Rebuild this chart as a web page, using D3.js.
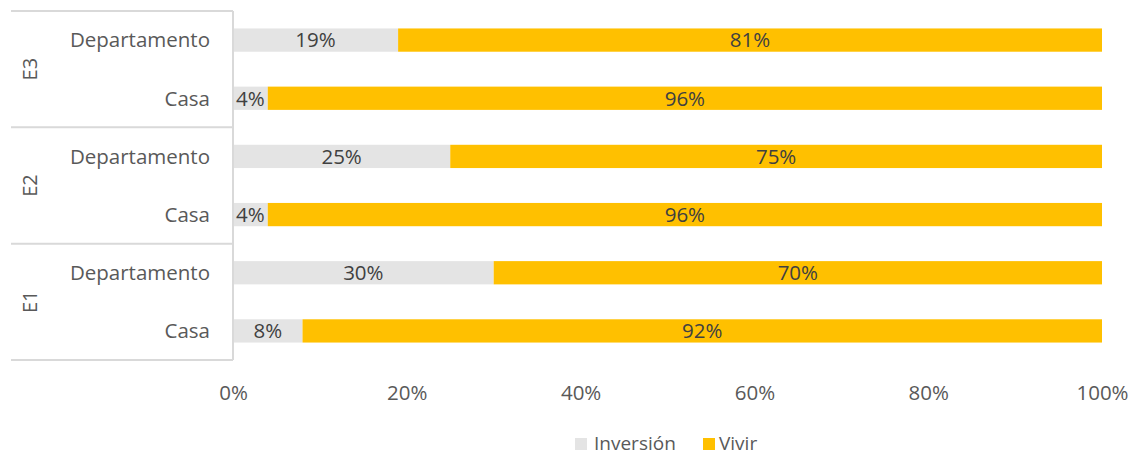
<!DOCTYPE html>
<html>
<head>
<meta charset="utf-8">
<script src="https://cdn.jsdelivr.net/npm/d3@7"></script>
<style>
  html, body { margin: 0; padding: 0; background: #fff; }
  svg { display: block; font-family: "Open Sans", "Noto Sans", sans-serif; }
</style>
</head>
<body>
<svg id="chart" width="1132" height="455"></svg>
<script>
// Groups (top to bottom) and the housing types inside each group
const groups = ["E3", "E2", "E1"];
const types = ["Departamento", "Casa"];
// Share of each purpose, in group order, Departamento then Casa
const inversion = [19, 4, 25, 4, 30, 8];
const vivir = [81, 96, 75, 96, 70, 92];
const seriesNames = ["Inversión", "Vivir"];
const ticks = [0, 20, 40, 60, 80, 100];

const colors = { "Inversión": "#e4e4e4", "Vivir": "#ffc000" };
const textColor = "#595959";
const lineColor = "#d9d9d9";

const rows = [];
groups.forEach((g, gi) => types.forEach((t, ti) => {
  const i = gi * types.length + ti;
  rows.push({ key: g + "|" + t, group: g, type: t, "Inversión": inversion[i], "Vivir": vivir[i] });
}));

const svg = d3.select("#chart");
const plotLeft = 233, plotRight = 1102, plotTop = 11, plotBottom = 360;

const x = d3.scaleLinear().domain([0, 100]).range([plotLeft, plotRight]);
const y = d3.scaleBand().domain(rows.map(d => d.key)).range([plotTop, plotBottom]).paddingInner(0.6).paddingOuter(0.3);

const stack = d3.stack().keys(seriesNames)(rows);

// Stacked bars
const layers = svg.append("g").selectAll("g").data(stack).join("g")
  .attr("fill", d => colors[d.key]);
layers.selectAll("rect").data(d => d.map(v => ({ v, key: d.key }))).join("rect")
  .attr("x", d => x(d.v[0]))
  .attr("y", d => y(d.v.data.key))
  .attr("width", d => x(d.v[1]) - x(d.v[0]))
  .attr("height", y.bandwidth());

// Value labels centred in each segment
layers.selectAll("text").data(d => d.map(v => ({ v, key: d.key }))).join("text")
  .attr("x", d => (x(d.v[0]) + x(d.v[1])) / 2)
  .attr("y", d => y(d.v.data.key) + y.bandwidth() / 2)
  .attr("dy", "0.36em")
  .attr("text-anchor", "middle")
  .attr("fill", "#404040")
  .attr("font-size", 20.5)
  .text(d => (d.v[1] - d.v[0]) + "%");

// Vertical category axis line
svg.append("line")
  .attr("x1", plotLeft).attr("x2", plotLeft)
  .attr("y1", plotTop).attr("y2", plotBottom)
  .attr("stroke", lineColor).attr("stroke-width", 2);

// Group separators
const step = (plotBottom - plotTop) / groups.length;
d3.range(groups.length + 1).forEach(i => {
  svg.append("line")
    .attr("x1", 11).attr("x2", plotLeft)
    .attr("y1", plotTop + i * step).attr("y2", plotTop + i * step)
    .attr("stroke", lineColor).attr("stroke-width", 2);
});

// Inner category labels
svg.append("g").selectAll("text").data(rows).join("text")
  .attr("x", 210)
  .attr("y", d => y(d.key) + y.bandwidth() / 2)
  .attr("dy", "0.36em")
  .attr("text-anchor", "end")
  .attr("fill", textColor)
  .attr("font-size", 20.5)
  .text(d => d.type);

// Outer group labels, rotated
svg.append("g").selectAll("text").data(groups).join("text")
  .attr("transform", (d, i) => `translate(30,${plotTop + (i + 0.5) * step}) rotate(-90)`)
  .attr("dy", "0.36em")
  .attr("text-anchor", "middle")
  .attr("fill", textColor)
  .attr("font-size", 20)
  .text(d => d);

// Percentage axis
const xAxis = svg.append("g")
  .attr("transform", `translate(0,${plotBottom})`)
  .call(d3.axisBottom(x).tickValues(ticks).tickFormat(d => d + "%").tickSize(0).tickPadding(25));
xAxis.select(".domain").remove();
xAxis.selectAll("text")
  .attr("fill", textColor)
  .attr("font-size", 20.5)
  .attr("font-family", '"Open Sans", "Noto Sans", sans-serif');

// Legend
const legendItems = [
  { name: "Inversión", sx: 575, tx: 594 },
  { name: "Vivir", sx: 703, tx: 719 }
];
const legend = svg.append("g").selectAll("g").data(legendItems).join("g");
legend.append("rect")
  .attr("x", d => d.sx).attr("y", 438)
  .attr("width", 12).attr("height", 12)
  .attr("fill", d => colors[d.name]);
legend.append("text")
  .attr("x", d => d.tx).attr("y", 450)
  .attr("fill", textColor)
  .attr("font-size", 19)
  .text(d => d.name);
</script>
</body>
</html>
